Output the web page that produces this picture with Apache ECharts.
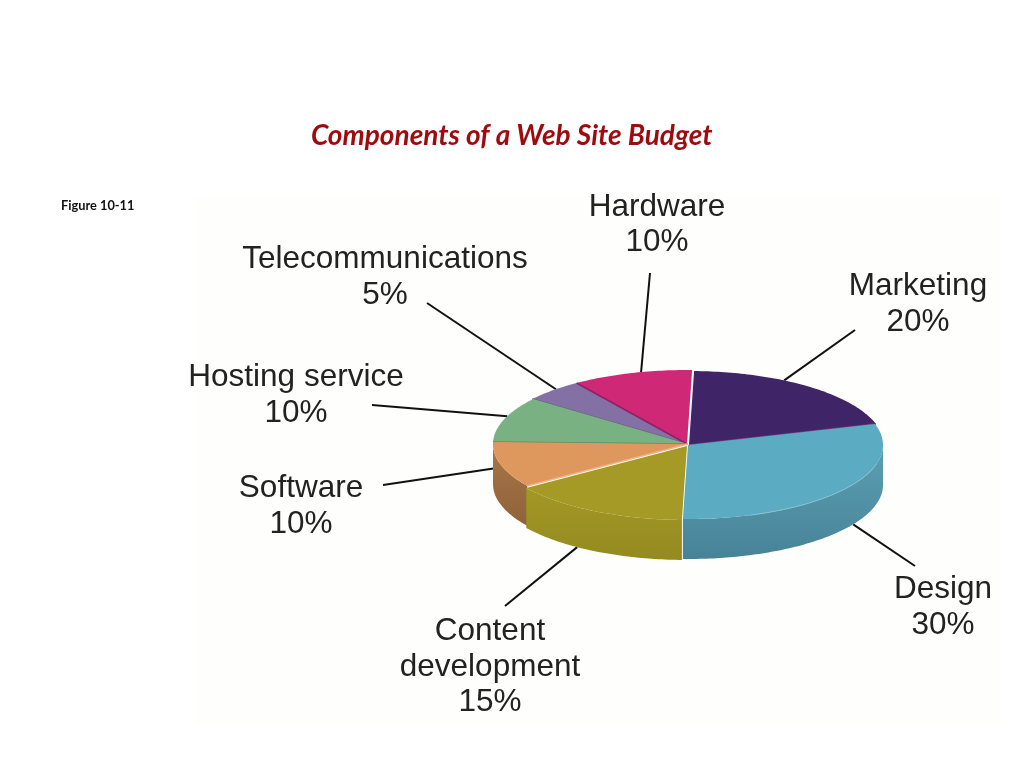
<!DOCTYPE html>
<html>
<head>
<meta charset="utf-8">
<style>html,body{margin:0;padding:0;background:#fff}#c{width:1024px;height:768px}</style>
<script src="https://cdn.jsdelivr.net/npm/echarts@6/dist/echarts.min.js"></script>
</head>
<body>
<div id="c"></div>
<script>
const categories = ['Marketing', 'Design', 'Content\ndevelopment', 'Software', 'Hosting service', 'Telecommunications', 'Hardware'];
const values = [20, 30, 15, 10, 10, 5, 10];

// Presentation only
const topColors  = ['#3F2468', '#5BABC2', '#A59A25', '#DE975D', '#79B183', '#8370A5', '#CE2877'];
const wallTop    = ['#35205A', '#5C9FB3', '#A39726', '#A8774A', '#5F8C68', '#66567F', '#A0205E'];
const wallBottom = ['#2C1A4B', '#478398', '#958A20', '#8F6238', '#5F8C68', '#66567F', '#A0205E'];
const edgeColors = ['#7B3C84', '#5BABC2', '#A59A25', '#F5B481', '#5C8C66', '#66587F', '#8E2260'];
const drawRank   = [3, 5, 6, 4, 2, 1, 1];
const explodeX   = [1, 0, -1, 0, 0, -1, -1];
const explodeY   = [0, 0, 1, -1, -1, -1, -1];
const labelX     = [918, 943, 490, 301, 296, 385, 657];
const labelY     = [304.5, 607.5, 667, 506.5, 395.5, 277.5, 225];
const leaderEndX = [855, 915, 505, 383, 372, 427, 650];
const leaderEndY = [330, 566, 606, 485, 405, 303, 273];
const leaderFrac = [0.385, 0.45, 0.607, 0.86, 0.57, 0.57, 0.58];
const leaderDrop = [0, 1, 1, 0.5, 0, 0, 0];

const CX = 688, CY = 445, RX = 195, RY = 74, DEPTH = 40, ROT = 1.5;
const total = values.reduce((a, b) => a + b, 0);
const rad = d => d * Math.PI / 180;
const rim = (deg, ox, oy) => [CX + ox + RX * Math.sin(rad(deg)), CY + oy - RY * Math.cos(rad(deg))];
const arc = (a, b, ox, oy) => {
  const pts = [], n = Math.max(2, Math.ceil(Math.abs(b - a)));
  for (let i = 0; i <= n; i++) pts.push(rim(a + (b - a) * i / n, ox, oy));
  return pts;
};

function renderSlice(params, api) {
  const i = params.dataIndex;
  const v = api.value(0);
  let before = 0;
  for (let k = 0; k < i; k++) before += values[k];
  const a = ROT + before / total * 360;
  const b = a + v / total * 360;
  const ox = explodeX[i], oy = explodeY[i];
  const apex = [CX + ox, CY + oy];
  const children = [];
  const z = drawRank[i] * 10;

  // side wall (only the front half of the disc shows)
  const wa = Math.max(a, 90), wb = Math.min(b, 270);
  if (wb > wa) {
    const upper = arc(wa, wb, ox, oy);
    const lower = upper.map(p => [p[0], p[1] + DEPTH]).reverse();
    children.push({
      type: 'polygon', z2: z,
      shape: { points: upper.concat(lower) },
      style: {
        fill: new echarts.graphic.LinearGradient(0, 0, 0, 1, [
          { offset: 0, color: wallTop[i] }, { offset: 1, color: wallBottom[i] }
        ])
      }
    });
  }
  // top face
  children.push({
    type: 'polygon', z2: z + 1,
    shape: { points: [apex].concat(arc(a, b, ox, oy)) },
    style: { fill: topColors[i] }
  });
  // bevel highlight / shade along one straight edge
  const edgeDeg = (i === 0) ? b : a;
  if (i === 0 || i >= 3) {
    const e = rim(edgeDeg, ox, oy);
    children.push({
      type: 'line', z2: z + 2,
      shape: { x1: apex[0], y1: apex[1], x2: e[0], y2: e[1] },
      style: { stroke: edgeColors[i], lineWidth: 1.5 }
    });
  }
  // rim highlight on the largest slice
  if (i === 1) {
    children.push({
      type: 'polyline', z2: z + 2,
      shape: { points: arc(Math.max(a, 105), b - 20, ox, oy) },
      style: { stroke: '#86C3D4', lineWidth: 1, fill: null }
    });
  }
  // leader line from the label to the slice
  const anchorDeg = a + (b - a) * leaderFrac[i];
  const anchor = rim(anchorDeg, ox, oy);
  children.push({
    type: 'line', z2: 1,
    shape: { x1: leaderEndX[i], y1: leaderEndY[i], x2: anchor[0], y2: anchor[1] + DEPTH * leaderDrop[i] },
    style: { stroke: '#111111', lineWidth: 2 }
  });
  // label
  children.push({
    type: 'text', z2: 100,
    style: {
      x: labelX[i], y: labelY[i],
      text: categories[i] + '\n' + v + '%',
      align: 'center', verticalAlign: 'middle',
      fill: '#222222', fontFamily: 'Liberation Sans', fontSize: 31.5, lineHeight: 35.5
    }
  });
  return { type: 'group', children };
}

const chart = echarts.init(document.getElementById('c'), null, { renderer: 'canvas', width: 1024, height: 768 });
chart.setOption({
  animation: false,
  backgroundColor: '#ffffff',
  title: [
    {
      text: 'Components of a Web Site Budget', left: 306, top: 117,
      textStyle: { fontFamily: 'Lato', fontStyle: 'italic', fontWeight: 'bold', fontSize: 28, color: '#9E0B0F' }
    },
    {
      text: 'Figure 10-11', left: 56, top: 194,
      textStyle: { fontFamily: 'Lato', fontWeight: 'bold', fontSize: 12.8, color: '#111111' }
    }
  ],
  graphic: [{
    type: 'rect', z: -1, silent: true,
    shape: { x: 195, y: 197, width: 805, height: 528 },
    style: { fill: '#FEFEFD' }
  }],
  series: [{
    type: 'custom',
    coordinateSystem: 'none',
    silent: true,
    renderItem: renderSlice,
    data: categories.map((c, i) => ({ name: c, value: [values[i]] }))
  }]
});
</script>
</body>
</html>
